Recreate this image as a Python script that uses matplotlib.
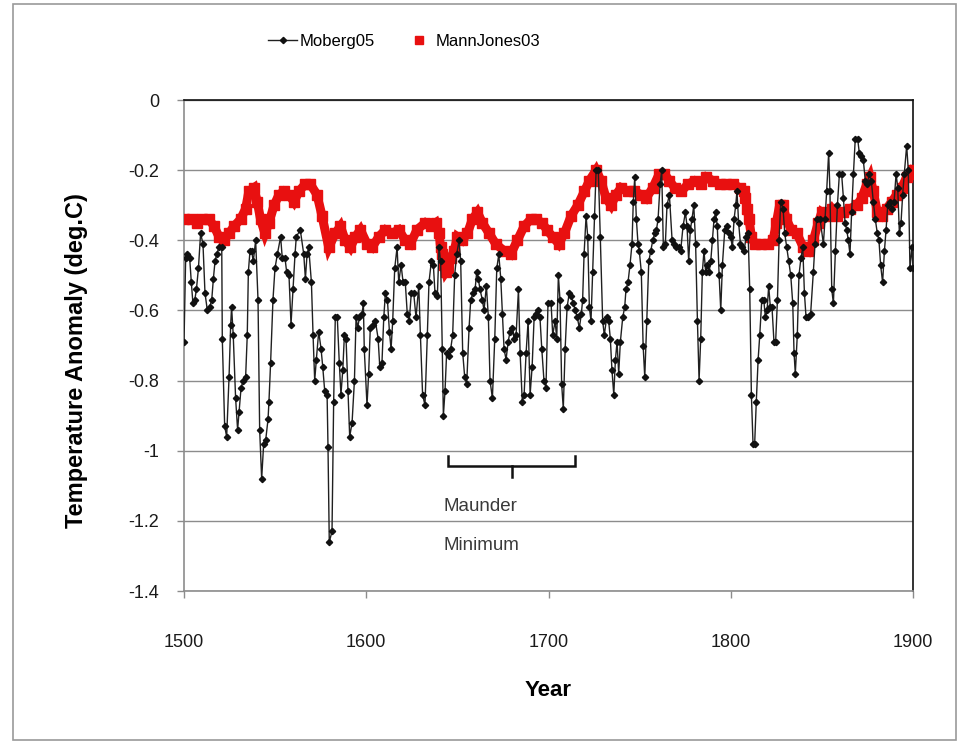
import matplotlib
matplotlib.use("Agg")
import matplotlib.pyplot as plt
from matplotlib.lines import Line2D
from matplotlib.patches import Rectangle

# Moberg05 (year, anomaly)
moberg_years = [
    1500.0, 1500.9, 1501.8, 1503.1, 1504.0, 1504.9, 1505.9, 1506.8, 1507.9, 1509.1,
    1510.4, 1511.5, 1512.8, 1514.1, 1515.2, 1516.1, 1517.0, 1517.9, 1519.2, 1520.7,
    1521.0, 1522.3, 1523.4, 1524.7, 1525.6, 1526.1, 1527.0, 1528.3, 1529.4, 1530.2,
    1531.3, 1532.5, 1533.8, 1534.7, 1535.3, 1536.2, 1537.1, 1538.0, 1539.3, 1540.6,
    1541.5, 1542.6, 1543.7, 1544.8, 1546.1, 1546.6, 1547.5, 1548.8, 1549.9, 1551.2,
    1553.0, 1553.9, 1555.4, 1556.3, 1557.6, 1558.7, 1559.8, 1560.9, 1561.6, 1563.8,
    1565.7, 1566.6, 1567.5, 1568.4, 1569.9, 1570.8, 1571.7, 1572.6, 1573.9, 1575.2,
    1576.1, 1577.2, 1578.5, 1579.0, 1579.7, 1581.2, 1582.1, 1583.0, 1584.1, 1585.2,
    1586.1, 1587.1, 1588.0, 1588.9, 1590.0, 1590.9, 1592.2, 1593.5, 1594.4, 1595.3,
    1596.2, 1597.7, 1598.4, 1598.9, 1600.4, 1601.3, 1602.2, 1603.5, 1605.0, 1606.5,
    1607.4, 1608.6, 1609.6, 1610.5, 1611.6, 1612.7, 1613.6, 1614.5, 1615.6, 1616.9,
    1617.8, 1619.1, 1620.2, 1621.4, 1622.5, 1623.6, 1624.7, 1626.0, 1627.3, 1628.8,
    1629.7, 1630.9, 1632.2, 1633.5, 1634.4, 1635.7, 1636.8, 1637.7, 1639.0, 1639.9,
    1640.8, 1641.7, 1642.3, 1643.2, 1644.1, 1645.4, 1646.3, 1647.4, 1648.5, 1649.6,
    1650.9, 1651.8, 1652.9, 1654.0, 1655.1, 1656.4, 1657.3, 1658.6, 1659.7, 1660.6,
    1661.5, 1662.4, 1663.7, 1664.6, 1665.9, 1667.0, 1667.9, 1669.2, 1670.5, 1671.6,
    1672.7, 1673.8, 1674.7, 1675.6, 1676.7, 1677.8, 1678.9, 1680.2, 1681.1, 1682.2,
    1683.5, 1684.4, 1685.6, 1686.6, 1687.7, 1688.8, 1689.9, 1691.0, 1692.1, 1693.1,
    1694.2, 1695.3, 1696.3, 1697.5, 1698.6, 1699.7, 1701.4, 1702.3, 1703.6, 1704.5,
    1705.4, 1706.3, 1707.2, 1708.1, 1709.1, 1710.2, 1711.4, 1712.5, 1713.6, 1714.7,
    1715.8, 1716.9, 1718.0, 1718.7, 1719.5, 1720.6, 1721.5, 1722.4, 1723.3, 1724.2,
    1725.2, 1726.1, 1727.3, 1728.4, 1729.7, 1730.6, 1731.9, 1733.0, 1733.9, 1734.8,
    1735.8, 1736.7, 1737.6, 1738.5, 1739.4, 1740.7, 1741.8, 1742.5, 1743.6, 1744.7,
    1745.8, 1746.5, 1747.3, 1748.2, 1749.1, 1749.8, 1750.9, 1751.9, 1752.8, 1753.9,
    1755.0, 1756.1, 1757.2, 1758.3, 1759.2, 1760.1, 1761.2, 1762.1, 1763.0, 1764.1,
    1765.0, 1766.3, 1767.8, 1768.9, 1770.1, 1771.4, 1772.5, 1773.8, 1775.1, 1776.0,
    1776.9, 1777.8, 1778.7, 1779.7, 1780.7, 1781.7, 1782.6, 1783.5, 1784.4, 1785.3,
    1786.2, 1787.2, 1788.1, 1789.0, 1789.9, 1790.8, 1791.7, 1792.6, 1793.6, 1794.5,
    1795.4, 1796.7, 1797.8, 1798.9, 1799.9, 1800.9, 1801.8, 1802.7, 1803.4, 1804.3,
    1805.3, 1806.2, 1807.3, 1808.4, 1809.5, 1810.4, 1811.3, 1812.2, 1813.1, 1814.0,
    1815.0, 1815.9, 1817.0, 1818.1, 1819.0, 1819.9, 1820.8, 1821.7, 1822.6, 1823.7,
    1824.6, 1825.6, 1826.5, 1827.4, 1828.7, 1829.6, 1830.7, 1831.8, 1832.9, 1834.0,
    1834.7, 1835.4, 1836.5, 1837.4, 1838.5, 1839.5, 1840.4, 1841.3, 1842.6, 1843.8,
    1845.3, 1846.2, 1847.1, 1849.0, 1850.8, 1851.7, 1852.6, 1853.7, 1854.4, 1855.4,
    1856.3, 1857.4, 1858.5, 1859.6, 1860.8, 1861.8, 1862.7, 1863.6, 1864.5, 1865.4,
    1866.3, 1867.3, 1868.3, 1869.6, 1870.5, 1871.6, 1872.7, 1873.8, 1874.9, 1876.0,
    1877.1, 1878.2, 1879.3, 1880.4, 1881.3, 1882.2, 1883.3, 1884.3, 1885.2, 1886.1,
    1887.4, 1888.5, 1889.6, 1890.7, 1891.6, 1892.5, 1893.4, 1894.3, 1895.2, 1896.5,
    1897.4, 1898.3, 1899.4, 1900.0,
]
moberg_vals = [
    -0.69, -0.45, -0.44, -0.45, -0.52, -0.58, -0.57, -0.54, -0.48, -0.38,
    -0.41, -0.55, -0.60, -0.59, -0.57, -0.51, -0.46, -0.44, -0.42, -0.42,
    -0.68, -0.93, -0.96, -0.79, -0.64, -0.59, -0.67, -0.85, -0.94, -0.89,
    -0.82, -0.80, -0.79, -0.67, -0.49, -0.43, -0.43, -0.46, -0.40, -0.57,
    -0.94, -1.08, -0.98, -0.97, -0.91, -0.86, -0.75, -0.57, -0.48, -0.44,
    -0.39, -0.45, -0.45, -0.49, -0.50, -0.64, -0.54, -0.44, -0.39, -0.37,
    -0.44, -0.51, -0.44, -0.42, -0.52, -0.67, -0.80, -0.74, -0.66, -0.71,
    -0.76, -0.83, -0.84, -0.99, -1.26, -1.23, -0.86, -0.62, -0.62, -0.75,
    -0.84, -0.77, -0.67, -0.68, -0.83, -0.96, -0.92, -0.80, -0.62, -0.65,
    -0.62, -0.61, -0.58, -0.71, -0.87, -0.78, -0.65, -0.64, -0.63, -0.68,
    -0.76, -0.75, -0.62, -0.55, -0.57, -0.66, -0.71, -0.63, -0.48, -0.42,
    -0.52, -0.47, -0.52, -0.52, -0.61, -0.63, -0.55, -0.55, -0.62, -0.53,
    -0.67, -0.84, -0.87, -0.67, -0.52, -0.46, -0.47, -0.55, -0.56, -0.42,
    -0.46, -0.71, -0.90, -0.83, -0.72, -0.73, -0.71, -0.67, -0.50, -0.44,
    -0.40, -0.46, -0.72, -0.79, -0.81, -0.65, -0.57, -0.55, -0.54, -0.49,
    -0.51, -0.54, -0.57, -0.60, -0.53, -0.62, -0.80, -0.85, -0.68, -0.48,
    -0.44, -0.51, -0.61, -0.71, -0.74, -0.69, -0.66, -0.65, -0.68, -0.67,
    -0.54, -0.72, -0.86, -0.84, -0.72, -0.63, -0.84, -0.76, -0.62, -0.61,
    -0.60, -0.62, -0.71, -0.80, -0.82, -0.58, -0.58, -0.67, -0.63, -0.68,
    -0.50, -0.57, -0.81, -0.88, -0.71, -0.59, -0.55, -0.56, -0.58, -0.60,
    -0.62, -0.65, -0.61, -0.57, -0.44, -0.33, -0.39, -0.59, -0.63, -0.49,
    -0.33, -0.20, -0.20, -0.39, -0.63, -0.67, -0.62, -0.63, -0.68, -0.77,
    -0.84, -0.74, -0.69, -0.78, -0.69, -0.62, -0.59, -0.54, -0.52, -0.47,
    -0.41, -0.29, -0.22, -0.34, -0.41, -0.43, -0.49, -0.70, -0.79, -0.63,
    -0.46, -0.43, -0.40, -0.38, -0.37, -0.34, -0.24, -0.20, -0.42, -0.41,
    -0.30, -0.27, -0.40, -0.41, -0.42, -0.42, -0.43, -0.36, -0.32, -0.36,
    -0.46, -0.37, -0.34, -0.30, -0.41, -0.63, -0.80, -0.68, -0.49, -0.43,
    -0.49, -0.47, -0.49, -0.46, -0.40, -0.34, -0.32, -0.36, -0.50, -0.60,
    -0.47, -0.37, -0.36, -0.38, -0.39, -0.42, -0.34, -0.30, -0.26, -0.35,
    -0.41, -0.42, -0.43, -0.39, -0.38, -0.54, -0.84, -0.98, -0.98, -0.86,
    -0.74, -0.67, -0.57, -0.57, -0.62, -0.60, -0.53, -0.59, -0.59, -0.69,
    -0.69, -0.57, -0.40, -0.29, -0.31, -0.38, -0.42, -0.46, -0.50, -0.58,
    -0.72, -0.78, -0.67, -0.50, -0.45, -0.42, -0.55, -0.62, -0.62, -0.61,
    -0.49, -0.41, -0.34, -0.34, -0.41, -0.34, -0.26, -0.15, -0.26, -0.54,
    -0.58, -0.43, -0.30, -0.21, -0.21, -0.28, -0.35, -0.37, -0.40, -0.44,
    -0.32, -0.21, -0.11, -0.11, -0.15, -0.16, -0.17, -0.23, -0.24, -0.21,
    -0.23, -0.29, -0.34, -0.38, -0.40, -0.47, -0.52, -0.43, -0.37, -0.30,
    -0.29, -0.31, -0.29, -0.21, -0.25, -0.38, -0.35, -0.27, -0.21, -0.13,
    -0.20, -0.48, -0.42, -0.48,
]

# MannJones03 (year, anomaly)
mj_years = [
    1500.0, 1504.6, 1507.0, 1510.0, 1513.7, 1516.5, 1519.2, 1522.0, 1524.7, 1527.4,
    1531.0, 1533.8, 1535.6, 1538.4, 1540.2, 1542.0, 1544.4, 1546.6, 1549.4, 1552.1,
    1554.8, 1557.6, 1560.3, 1563.1, 1566.4, 1569.3, 1573.0, 1575.7, 1579.4, 1583.0,
    1585.8, 1588.5, 1591.3, 1594.0, 1596.8, 1600.4, 1603.2, 1606.8, 1610.5, 1614.1,
    1617.8, 1621.4, 1624.2, 1627.8, 1632.4, 1635.3, 1638.1, 1639.9, 1640.8, 1641.7,
    1642.7, 1643.6, 1644.9, 1646.3, 1648.2, 1650.0, 1652.7, 1655.5, 1658.2, 1661.0,
    1663.7, 1667.4, 1671.0, 1675.6, 1679.2, 1682.9, 1686.6, 1690.2, 1693.0, 1696.6,
    1699.0, 1702.3, 1705.6, 1708.7, 1712.4, 1716.0, 1719.7, 1722.4, 1726.1, 1728.8,
    1731.6, 1734.3, 1737.0, 1739.8, 1743.4, 1747.1, 1750.8, 1753.5, 1757.2, 1760.8,
    1763.6, 1766.3, 1769.2, 1772.9, 1776.5, 1780.2, 1783.9, 1786.6, 1790.3, 1793.9,
    1797.6, 1801.2, 1804.9, 1807.3, 1808.0, 1809.1, 1810.0, 1811.3, 1813.1, 1816.8,
    1820.4, 1823.2, 1825.0, 1826.8, 1828.7, 1830.5, 1833.2, 1836.2, 1839.8, 1842.6,
    1845.3, 1848.0, 1849.9, 1852.6, 1855.4, 1858.1, 1861.8, 1865.4, 1869.1, 1871.8,
    1874.6, 1876.4, 1878.2, 1880.4, 1882.8, 1885.5, 1888.3, 1891.0, 1893.8, 1896.5,
    1899.3, 1900.0,
]
mj_vals = [
    -0.34, -0.34, -0.35, -0.34, -0.34, -0.36, -0.39, -0.40, -0.38, -0.36,
    -0.34, -0.31, -0.26, -0.25, -0.29, -0.34, -0.38, -0.35, -0.30, -0.27,
    -0.26, -0.27, -0.29, -0.26, -0.24, -0.24, -0.27, -0.33, -0.42, -0.38,
    -0.36, -0.40, -0.42, -0.39, -0.37, -0.41, -0.42, -0.39, -0.37, -0.38,
    -0.37, -0.40, -0.41, -0.37, -0.35, -0.36, -0.35, -0.38, -0.42, -0.44,
    -0.47, -0.49, -0.48, -0.45, -0.43, -0.39, -0.40, -0.38, -0.34, -0.32,
    -0.35, -0.38, -0.41, -0.43, -0.44, -0.40, -0.36, -0.34, -0.34, -0.35,
    -0.37, -0.39, -0.41, -0.38, -0.33, -0.30, -0.26, -0.23, -0.20, -0.23,
    -0.28, -0.30, -0.27, -0.25, -0.26, -0.26, -0.27, -0.28, -0.25, -0.21,
    -0.21, -0.23, -0.25, -0.26, -0.24, -0.23, -0.24, -0.22, -0.23, -0.24,
    -0.24, -0.24, -0.25, -0.26, -0.28, -0.31, -0.34, -0.39, -0.41, -0.41,
    -0.41, -0.40, -0.35, -0.30, -0.30, -0.34, -0.37, -0.38, -0.42, -0.43,
    -0.40, -0.35, -0.32, -0.33, -0.31, -0.33, -0.32, -0.31, -0.30, -0.28,
    -0.24, -0.22, -0.26, -0.32, -0.33, -0.31, -0.29, -0.27, -0.25, -0.22,
    -0.21, -0.20,
]

x_ticks = [1500, 1600, 1700, 1800, 1900]
y_ticks = [0, -0.2, -0.4, -0.6, -0.8, -1, -1.2, -1.4]
y_tick_labels = ["0", "-0.2", "-0.4", "-0.6", "-0.8", "-1", "-1.2", "-1.4"]

FONT = ["Liberation Sans Narrow", "Liberation Sans", "DejaVu Sans"]
plt.rcParams["font.family"] = FONT
RED = "#e81010"
GRID = "#8c8c8c"

fig = plt.figure(figsize=(9.67, 7.44), dpi=100)
fig.patches.append(Rectangle((0.013, 0.006), 0.976, 0.988, transform=fig.transFigure,
                             fill=False, edgecolor="#9a9a9a", linewidth=1.2))

ax = fig.add_axes([0.1903, 0.2056, 0.7539, 0.6599])

# MannJones03: dense square markers form a thick red band
ax.plot(mj_years, mj_vals, color=RED, linewidth=6.5, solid_joinstyle="miter",
        zorder=3)
ax.plot(mj_years, mj_vals, linestyle="none", marker="s", markersize=6.5,
        color=RED, zorder=3)

# Moberg05
ax.plot(moberg_years, moberg_vals, color="#202020", linewidth=1.0,
        marker="D", markersize=3.2, markerfacecolor="#111111",
        markeredgecolor="#111111", zorder=4)

ax.set_xlim(1500, 1900)
ax.set_ylim(-1.4, 0)
ax.set_xticks(x_ticks)
ax.set_yticks(y_ticks)
ax.set_yticklabels(y_tick_labels)
ax.tick_params(axis="both", direction="out", length=5, width=1, color=GRID,
               labelsize=13, labelcolor="#1a1a1a")
ax.tick_params(axis="y", pad=13)
ax.tick_params(axis="x", pad=26)

ax.grid(axis="y", color=GRID, linewidth=1)
ax.set_axisbelow(True)
for side in ["top", "right"]:
    ax.spines[side].set_color("#111111")
    ax.spines[side].set_linewidth(1.2)
for side in ["left", "bottom"]:
    ax.spines[side].set_color(GRID)
    ax.spines[side].set_linewidth(1.2)

ax.set_xlabel("Year", fontsize=16, fontweight="bold", va="center")
ax.xaxis.set_label_coords(0.5, -0.2016)
ax.set_ylabel("Temperature Anomaly (deg.C)", fontsize=17, fontweight="bold",
              va="center")
ax.yaxis.set_label_coords(-0.148, 0.47)

# Maunder Minimum bracket
ax.plot([1645, 1645, 1714.5, 1714.5], [-1.015, -1.043, -1.043, -1.015],
        color="#111111", linewidth=1.8, solid_joinstyle="miter", clip_on=False)
ax.plot([1680, 1680], [-1.043, -1.075], color="#111111", linewidth=1.8)
ax.text(1642.5, -1.16, "Maunder", fontsize=13.5, color="#3a3a3a", va="center")
ax.text(1642.5, -1.27, "Minimum", fontsize=13.5, color="#3a3a3a", va="center")

handles = [
    Line2D([], [], color="#202020", linewidth=1.0, marker="D", markersize=3.2,
           markerfacecolor="#111111", markeredgecolor="#111111"),
    Line2D([], [], linestyle="none", marker="s", markersize=5.5, color=RED),
]
fig.legend(handles, ["Moberg05", "MannJones03"], loc="center",
           bbox_to_anchor=(0.418, 0.944), ncol=2, frameon=False, fontsize=12,
           handlelength=1.7, handletextpad=0.15, columnspacing=1.8)

fig.savefig("out.png", dpi=100)
